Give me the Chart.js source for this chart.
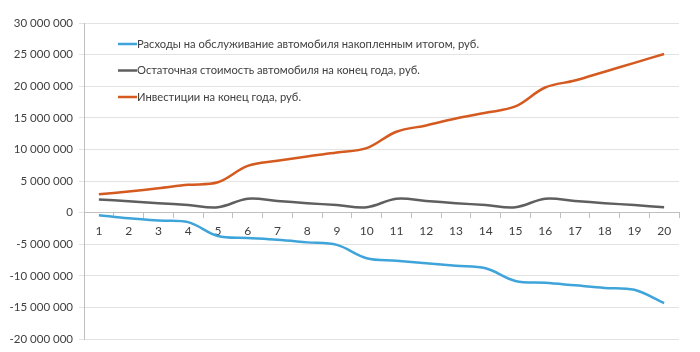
<!DOCTYPE html>
<html>
<head>
<meta charset="utf-8">
<script src="https://cdn.jsdelivr.net/npm/chart.js@4"></script>
<style>
    html, body { margin: 0; padding: 0; background: #fff; }
    #wrap { width: 700px; height: 352px; position: relative; }
</style>
</head>
<body>
<div id="wrap"><canvas id="carChart"></canvas></div>
<script>
const years = ['1', '2', '3', '4', '5', '6', '7', '8', '9', '10',
    '11', '12', '13', '14', '15', '16', '17', '18', '19', '20'];

const serviceCosts = [-400000, -900000, -1250000, -1500000, -3700000, -4000000, -4300000, -4700000, -5100000, -7200000,
    -7600000, -8000000, -8400000, -8800000, -10800000, -11100000, -11500000, -11900000, -12200000, -14300000];

const residualValue = [2100000, 1800000, 1500000, 1200000, 850000, 2200000, 1850000, 1500000, 1200000, 850000,
    2200000, 1850000, 1500000, 1200000, 850000, 2200000, 1850000, 1500000, 1200000, 850000];

const investments = [2900000, 3350000, 3850000, 4400000, 4800000, 7400000, 8200000, 8900000, 9500000, 10200000,
    12800000, 13800000, 14900000, 15800000, 16800000, 19800000, 20900000, 22300000, 23700000, 25100000];

const seriesNames = [
    'Расходы на обслуживание автомобиля накопленным итогом, руб.',
    'Остаточная стоимость автомобиля на конец года, руб.',
    'Инвестиции на конец года, руб.'
];

const textColor = '#404040';
const fontFamily = 'Lato, "Liberation Sans", Arial, sans-serif';

function formatNumber(v) {
    const s = String(Math.abs(v)).replace(/\B(?=(\d{3})+(?!\d))/g, ' ');
    return (v < 0 ? '-' : '') + s;
}

// legend sits inside the plot, top left, like the Excel original
const insideLegend = {
    id: 'insideLegend',
    afterDraw(chart) {
        const ctx = chart.ctx;
        const area = chart.chartArea;
        ctx.save();
        ctx.font = '11.2px ' + fontFamily;
        ctx.textBaseline = 'middle';
        chart.data.datasets.forEach((ds, i) => {
            const y = area.top + 21 + i * 26.5;
            const x = area.left + 34;
            ctx.strokeStyle = ds.borderColor;
            ctx.lineWidth = 2.5;
            ctx.beginPath();
            ctx.moveTo(x, y);
            ctx.lineTo(x + 19, y);
            ctx.stroke();
            ctx.fillStyle = textColor;
            ctx.fillText(ds.label, x + 19, y);
        });
        ctx.restore();
    }
};

const ctx = document.getElementById('carChart').getContext('2d');

new Chart(ctx, {
    type: 'line',
    data: {
        labels: years,
        datasets: [
            {
                label: seriesNames[0],
                data: serviceCosts,
                borderColor: '#3fa4d9',
                borderWidth: 2.5,
                pointRadius: 0,
                tension: 0.35
            },
            {
                label: seriesNames[1],
                data: residualValue,
                borderColor: '#5f5f5f',
                borderWidth: 2.5,
                pointRadius: 0,
                tension: 0.35
            },
            {
                label: seriesNames[2],
                data: investments,
                borderColor: '#d45a1f',
                borderWidth: 2.5,
                pointRadius: 0,
                tension: 0.35
            }
        ]
    },
    plugins: [insideLegend],
    options: {
        responsive: true,
        maintainAspectRatio: false,
        animation: false,
        layout: {
            padding: { left: 0, right: 21, top: 23, bottom: 6 }
        },
        plugins: {
            legend: { display: false },
            tooltip: { enabled: false }
        },
        scales: {
            x: {
                position: { y: 0 },
                offset: true,
                grid: {
                    offset: true,
                    drawOnChartArea: false,
                    drawTicks: true,
                    tickLength: 5,
                    color: '#bfbfbf'
                },
                border: { color: '#bfbfbf' },
                ticks: {
                    color: textColor,
                    padding: 6,
                    maxRotation: 0,
                    autoSkip: false,
                    font: { family: fontFamily, size: 12 }
                }
            },
            y: {
                min: -20000000,
                max: 30000000,
                afterFit(scale) { scale.width = 84; },
                grid: {
                    color: '#e3e3e3',
                    drawTicks: true,
                    tickLength: 5
                },
                border: { color: '#bfbfbf' },
                ticks: {
                    stepSize: 5000000,
                    color: textColor,
                    padding: 6,
                    font: { family: fontFamily, size: 11.5 },
                    callback: value => formatNumber(value)
                }
            }
        }
    }
});
</script>
</body>
</html>
